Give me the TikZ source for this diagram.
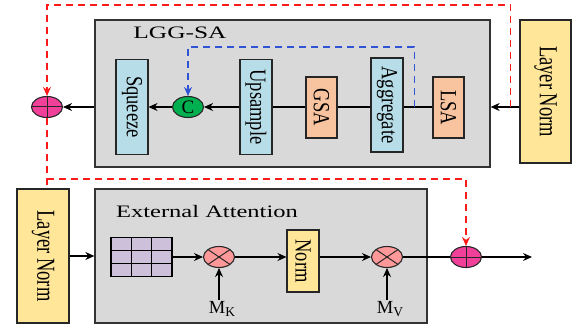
\documentclass[tikz,border=0pt]{standalone}
\usepackage{fontspec}
\setmainfont{Liberation Serif}
\usetikzlibrary{shapes.geometric,arrows.meta,calc}
\definecolor{boxgray}{HTML}{D9D9D9}
\definecolor{lblue}{HTML}{B7DEE8}
\definecolor{lorange}{HTML}{F8C4A0}
\definecolor{lyellow}{HTML}{FFE699}
\definecolor{pinkp}{HTML}{F0409A}
\definecolor{greenc}{HTML}{00B050}
\definecolor{salmonc}{HTML}{FF9999}
\definecolor{lav}{HTML}{CCC0DA}
\definecolor{dblue}{HTML}{2F55D4}
\definecolor{dred}{HTML}{FF1A1A}
\tikzset{
  bigbox/.style={draw=black!80, fill=boxgray, line width=1.3pt},
  vbox/.style={draw=black!85, line width=1.1pt, rotate=-90, inner sep=0pt,
    font=\fontsize{18.5}{20}\selectfont},
  ttl/.style={inner sep=0pt, font=\fontsize{17.5}{20}\selectfont},
  arr/.style={line width=1.1pt, -{Stealth[length=9pt,width=8pt]}},
  ln/.style={line width=1.1pt},
  reddash/.style={draw=dred, line width=1.2pt, dash pattern=on 7pt off 5pt},
  bluedash/.style={draw=dblue, line width=1.2pt, dash pattern=on 7pt off 5pt},
  plusc/.style={ellipse, draw=black!85, fill=pinkp, line width=1.1pt, minimum width=31pt, minimum height=21pt, inner sep=0pt,
    path picture={\draw[line width=1pt] (path picture bounding box.north) -- (path picture bounding box.south)
      (path picture bounding box.west) -- (path picture bounding box.east);}},
  multc/.style={ellipse, draw=black!85, fill=salmonc, line width=1.1pt, minimum width=31pt, minimum height=21pt, inner sep=0pt,
    path picture={\draw[line width=1pt] (path picture bounding box.north west) -- (path picture bounding box.south east)
      (path picture bounding box.south west) -- (path picture bounding box.north east);}},
  mlabel/.style={inner sep=1pt, font=\fontsize{18.5}{19}\selectfont},
}
\newcommand{\vt}[1]{\scalebox{1}[1.25]{#1}}
\newcommand{\vtl}[1]{\scalebox{1}[1.4]{#1}}
\newcommand{\msub}[1]{M\raisebox{-3pt}{\fontsize{13.5}{14}\selectfont #1}}
\begin{document}
\begin{tikzpicture}[x=1pt,y=-1pt]
\useasboundingbox (0,0) rectangle (579,329);
% top block
\node[bigbox, minimum width=395pt, minimum height=147pt] (lgg) at (292.5,93.5) {};
\node[ttl] (t1) at (180,33) {\scalebox{1.45}[1]{LGG-SA}};
\node[vbox, fill=lblue, minimum width=95pt, minimum height=32pt] (sq) at (132,107) {\vt{Squeeze}};
\node[ellipse, draw=black!85, fill=greenc, line width=1.1pt, minimum width=31pt, minimum height=21pt, inner sep=0pt,
  font=\fontsize{19}{19}\selectfont] (cc) at (188,107) {C};
\node[vbox, fill=lblue, minimum width=95pt, minimum height=32pt] (up) at (256,107) {\vt{Upsample}};
\node[vbox, fill=lorange, minimum width=61pt, minimum height=31pt] (gsa) at (321.5,107.5) {\vt{GSA}};
\node[vbox, fill=lblue, minimum width=94pt, minimum height=32pt] (agg) at (387,105) {\vt{Aggregate}};
\node[vbox, fill=lorange, minimum width=61pt, minimum height=31pt] (lsa) at (448.5,107.5) {\vt{LSA}};
\node[vbox, fill=lyellow, minimum width=143pt, minimum height=51pt] (ln1) at (545.5,91.5) {\vtl{Layer Norm}};
\node[plusc] (p1) at (47,107) {};
% top connectors (rotated boxes: north = page east, south = page west, west = page top)
\draw[ln] (up.north) -- (gsa.south |- up.north);
\draw[ln] (gsa.north |- up.north) -- (agg.south |- up.north);
\draw[ln] (agg.north |- up.north) -- (lsa.south |- up.north);
\draw[arr] (up.south) -- (cc.east);
\draw[arr] (cc.west) -- (sq.north);
\draw[arr] (lgg.west |- p1) -- (p1.east);
\draw[arr] (ln1.south |- p1) -- (lgg.east |- p1);
\coordinate (b0) at ($(agg.north |- p1)!0.37!(lsa.south |- p1)$);
\draw[bluedash, -{Stealth[length=9pt,width=8pt]}] (b0) -- ++(0,-60) -| (cc.north);
\coordinate (r0) at ($(lgg.east |- p1)!0.7!(ln1.south |- p1)$);
\draw[reddash, -{Stealth[length=9pt,width=8pt]}] (r0) -- ++(0,-102) -| (p1.north);
% bottom block
\node[bigbox, minimum width=332pt, minimum height=134pt] (ea) at (261,256) {};
\node[ttl] (t2) at (207,212) {\scalebox{1.4}[1]{External Attention}};
\node[vbox, fill=lyellow, minimum width=134pt, minimum height=52pt] (ln2) at (43,256) {\vtl{Layer Norm}};
\node[draw=black, fill=lav, line width=1.2pt, minimum width=61pt, minimum height=39pt, inner sep=0pt] (grid) at (141.5,257) {};
\foreach \f in {0.3333,0.6667} {
  \draw[line width=1.2pt] ($(grid.north west)!\f!(grid.north east)$) -- ($(grid.south west)!\f!(grid.south east)$);
  \draw[line width=1.2pt] ($(grid.north west)!\f!(grid.south west)$) -- ($(grid.north east)!\f!(grid.south east)$);
}
\node[multc] (m1) at (219,257) {};
\node[vbox, fill=lyellow, minimum width=62pt, minimum height=32pt] (nm) at (303,261) {\vt{Norm}};
\node[multc] (m2) at (387,257) {};
\node[plusc] (p2) at (466,257) {};
\coordinate (out) at (532,257);
\node[mlabel] (mk) at (222,309) {\msub{K}};
\node[mlabel] (mv) at (390,309) {\msub{V}};
% bottom connectors
\draw[arr] (ln2.north |- ea.center) -- (ea.west);
\draw[arr] (grid.east) -- (m1.west);
\draw[arr] (m1.east) -- (nm.south |- m1);
\draw[arr] (nm.north |- m2) -- (m2.west);
\draw[ln] (m2.east) -- (p2.west);
\draw[arr] (p2.east) -- (out);
\draw[arr] (mk.north -| m1) -- (m1.south);
\draw[arr] (mv.north -| m2) -- (m2.south);
% red residual to bottom
\draw[reddash] (p1.south) -- (ln2.west -| p1);
\coordinate (r1) at (47,179);
\draw[reddash, -{Stealth[length=9pt,width=8pt]}] (r1) -| (p2.north);
\end{tikzpicture}
\end{document}
